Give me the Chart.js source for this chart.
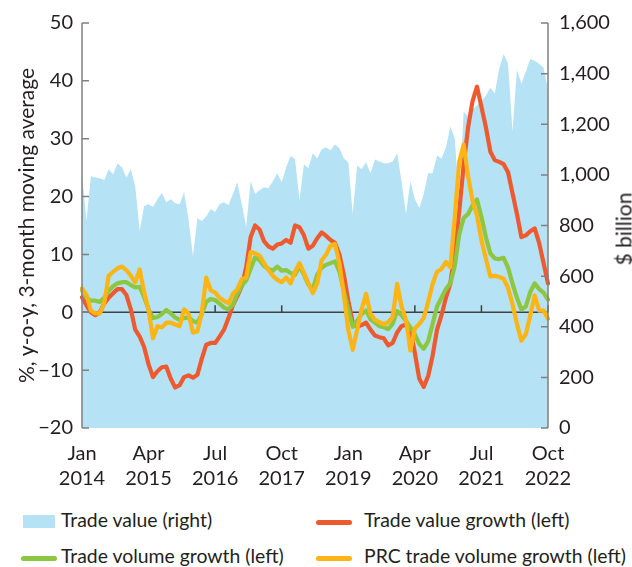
<!DOCTYPE html>
<html>
<head>
<meta charset="utf-8">
<script src="https://cdn.jsdelivr.net/npm/chart.js@4.4.0/dist/chart.umd.min.js"></script>
<style>
html,body{margin:0;padding:0;background:#fff;}
#wrap{position:relative;width:632px;height:567px;overflow:hidden;font-family:Lato,"Open Sans",sans-serif;color:#231f20;}
#c{position:absolute;left:0;top:0;}
#rtitle{position:absolute;left:623px;top:229px;transform:translate(-50%,-50%) rotate(-90deg);white-space:nowrap;font-size:21px;}
.lt{position:absolute;font-size:19.4px;white-space:nowrap;line-height:22px;}
.mk{position:absolute;}
</style>
</head>
<body>
<div id="wrap">
<canvas id="c" width="632" height="500" style="width:632px;height:500px"></canvas>
<div id="rtitle">$ billion</div>
<div class="mk" style="left:23px;top:515px;width:32px;height:13px;background:#b5e2f4"></div>
<div class="lt" style="left:61px;top:509px">Trade value (right)</div>
<div class="mk" style="left:316px;top:520px;width:36px;height:5px;border-radius:3px;background:#ee5a2f"></div>
<div class="lt" style="left:364px;top:509px">Trade value growth (left)</div>
<div class="mk" style="left:21px;top:556px;width:36px;height:5px;border-radius:3px;background:#8dc641"></div>
<div class="lt" style="left:61px;top:545px">Trade volume growth (left)</div>
<div class="mk" style="left:316px;top:556px;width:36px;height:5px;border-radius:3px;background:#fdb515"></div>
<div class="lt" style="left:364px;top:545px">PRC trade volume growth (left)</div>
</div>
<script>
const monthNames = ["Jan","Feb","Mar","Apr","May","Jun","Jul","Aug","Sep","Oct","Nov","Dec"];
const startYear = 2014;
const nMonths = 106;
const categories = [];
for (let i = 0; i < nMonths; i++) {
  categories.push(monthNames[i % 12] + " " + (startYear + Math.floor(i / 12)));
}
const tickEvery = 15;

// Trade value, $ billion (right axis)
const tradeValue = [
  1002, 818, 995, 990, 987, 979, 1022, 1002, 1045, 1030, 990, 1022,
  955, 778, 877, 884, 873, 904, 928, 892, 904, 888, 884, 932,
  825, 680, 829, 818, 837, 865, 853, 884, 892, 880, 924, 971,
  884, 794, 975, 924, 939, 951, 947, 975, 1006, 971, 1030, 1075,
  1063, 900, 1042, 1026, 1085, 1065, 1101, 1108, 1097, 1120, 1105, 1065,
  1050, 845, 1038, 1022, 1050, 1006, 1061, 1053, 1046, 1046, 1053, 1085,
  975, 845, 975, 904, 869, 924, 1006, 1006, 1077, 1065, 1108, 1191,
  1144, 884, 1250, 1230, 1258, 1274, 1293, 1313, 1344, 1321, 1419, 1478,
  1439, 1171, 1415, 1360, 1407, 1458, 1450, 1439, 1423, 1336
];
// Trade value growth, % y-o-y 3mma (left axis)
const tradeValueGrowth = [
  2.6, 1.2, 0.0, -0.5, 0.0, 1.5, 2.5, 3.3, 4.0, 4.0, 3.0, 0.5,
  -3.0, -4.2, -6.0, -9.0, -11.2, -10.2, -9.5, -9.4, -11.5, -13.0, -12.6, -11.2,
  -10.9, -11.3, -10.8, -8.0, -5.6, -5.3, -5.3, -4.2, -3.0, -1.0, 1.2, 2.8,
  4.5, 7.8, 13.0, 15.0, 14.3, 12.3, 11.4, 11.0, 11.7, 11.9, 12.5, 12.0,
  15.0, 14.7, 13.3, 11.0, 11.5, 12.8, 13.8, 13.2, 12.5, 12.0, 10.0, 6.5,
  2.0, -1.8, -2.5, -2.2, -1.8, -3.0, -4.0, -4.3, -4.5, -5.7, -5.3, -3.5,
  -2.4, -2.1, -3.0, -7.0, -11.5, -12.9, -11.0, -7.5, -3.0, -0.5, 2.5, 5.0,
  10.5, 17.5, 25.5, 32.0, 36.5, 39.0, 35.5, 32.0, 27.8, 26.3, 26.0, 25.6,
  24.2, 20.6, 17.0, 13.0, 13.3, 14.0, 14.5, 12.0, 8.5, 5.0
];
// Trade volume growth (left axis)
const tradeVolumeGrowth = [
  3.8, 2.5, 2.0, 2.0, 1.8, 2.5, 3.7, 4.5, 5.0, 5.2, 5.2, 4.7,
  4.3, 4.4, 2.6, 0.5, -1.0, -0.8, -0.3, 0.4, -0.2, -0.9, -1.3, -1.0,
  -0.9, -1.5, -1.8, -0.3, 1.8, 2.3, 2.1, 1.5, 0.8, 0.5, 1.3, 3.2,
  4.6, 5.5, 7.5, 9.5, 9.0, 8.0, 7.5, 7.2, 7.9, 7.2, 7.3, 6.8,
  6.5, 8.0, 6.5, 4.8, 4.0, 6.5, 7.7, 8.2, 8.5, 8.8, 7.0, 3.7,
  0.5, -2.5, -1.5, -0.3, 0.3, -1.2, -1.8, -2.4, -2.6, -2.9, -2.0, 0.2,
  -0.5, -1.5, -2.6, -3.8, -5.5, -6.3, -5.0, -2.0, 1.0, 2.5, 4.0, 5.0,
  8.0, 13.5, 16.3, 17.0, 18.5, 19.5, 16.5, 13.0, 10.2, 9.3, 9.2, 9.4,
  7.7, 5.0, 2.5, 0.5, 1.0, 3.5, 5.0, 4.0, 3.4, 2.2
];
// PRC trade volume growth (left axis)
const prcVolumeGrowth = [
  4.1, 3.0, 0.3, -0.2, -0.2, 1.5, 6.3, 7.0, 7.6, 7.9, 7.3, 6.3,
  5.2, 7.4, 3.5, 0.3, -4.5, -2.4, -2.6, -1.8, -1.8, -2.1, -2.4, 0.5,
  -0.2, -3.5, -3.3, 0.0, 6.0, 3.8, 3.4, 2.5, 2.0, 1.5, 3.2, 4.0,
  5.7, 6.0, 10.4, 10.2, 9.8, 8.5, 7.3, 6.3, 5.6, 5.2, 6.0, 5.0,
  7.0, 8.5, 6.8, 5.0, 3.3, 5.0, 9.0, 10.0, 11.5, 11.8, 8.5, 3.0,
  -3.0, -6.5, -3.0, 0.5, 3.2, -0.3, -1.3, -1.7, -2.1, -1.7, -0.8, 4.9,
  1.0, -1.3, -6.6, -2.8, -2.0, -1.0, 1.8, 4.9, 7.0, 7.5, 8.7, 7.8,
  16.5, 26.0, 29.0, 23.5, 19.3, 16.7, 12.5, 9.3, 6.2, 6.3, 6.1, 5.8,
  4.2, 1.4, -2.0, -4.9, -3.8, -0.5, 2.9, 0.3, 0.3, -1.1
];
const leftTicks = [-20, -10, 0, 10, 20, 30, 40, 50];
const rightTicks = [0, 200, 400, 600, 800, 1000, 1200, 1400, 1600];

const colArea = '#b5e2f4', colRed = '#ee5a2f', colGreen = '#8dc641', colOrange = '#fdb515';
const FONT = 'Lato, "Open Sans", sans-serif';

const overlay = {
  id: 'overlay',
  afterDatasetDraw(chart, args) {
    if (args.index !== 0) return;
    const {ctx, chartArea: a, scales: {x, y}} = chart;
    const y0 = y.getPixelForValue(0);
    ctx.save();
    ctx.strokeStyle = '#404040';
    ctx.lineWidth = 1.5;
    ctx.beginPath();
    ctx.moveTo(a.left, y0); ctx.lineTo(a.right, y0);
    for (let i = tickEvery; i < nMonths; i += tickEvery) {
      const px = x.getPixelForValue(i);
      ctx.moveTo(px, y0); ctx.lineTo(px, y0 - 7);
    }
    ctx.stroke();
    ctx.restore();
  },
  afterDraw(chart) {
    const {ctx, chartArea: a, scales: {y, y1}} = chart;
    ctx.save();
    ctx.strokeStyle = '#808080';
    ctx.lineWidth = 1.5;
    ctx.beginPath();
    ctx.moveTo(a.left, a.top); ctx.lineTo(a.left, a.bottom);
    ctx.moveTo(a.right, a.top); ctx.lineTo(a.right, a.bottom);
    leftTicks.forEach(v => { const p = y.getPixelForValue(v); ctx.moveTo(a.left, p); ctx.lineTo(a.left + 7, p); });
    rightTicks.forEach(v => { const p = y1.getPixelForValue(v); ctx.moveTo(a.right, p); ctx.lineTo(a.right - 7, p); });
    ctx.stroke();
    ctx.restore();
  }
};

const lineDs = (label, data, color, order) => ({
  type: 'line', label, data, yAxisID: 'y', borderColor: color, backgroundColor: color,
  borderWidth: 4.2, pointRadius: 0, tension: 0, fill: false, order,
  borderJoinStyle: 'round', borderCapStyle: 'round'
});

new Chart(document.getElementById('c'), {
  type: 'line',
  data: {
    labels: categories,
    datasets: [
      { label: 'Trade value (right)', data: tradeValue, yAxisID: 'y1', fill: 'start',
        backgroundColor: colArea, borderColor: colArea, borderWidth: 0, pointRadius: 0, tension: 0, order: 4 },
      lineDs('Trade value growth (left)', tradeValueGrowth, colRed, 3),
      lineDs('Trade volume growth (left)', tradeVolumeGrowth, colGreen, 2),
      lineDs('PRC trade volume growth (left)', prcVolumeGrowth, colOrange, 1)
    ]
  },
  options: {
    responsive: false,
    animation: false,
    layout: { padding: { top: 21, left: 0, right: 0, bottom: 0 } },
    plugins: { legend: { display: false }, tooltip: { enabled: false } },
    scales: {
      x: {
        grid: { display: false, drawTicks: false },
        border: { display: false },
        afterFit(s) { s.height = 72; },
        ticks: {
          autoSkip: false, maxRotation: 0, minRotation: 0, padding: 13,
          color: '#231f20', font: { family: FONT, size: 20, lineHeight: 1.25 },
          callback(val, idx) {
            if (idx % tickEvery !== 0) return null;
            return this.getLabelForValue(val).split(' ');
          }
        }
      },
      y: {
        position: 'left', min: -20, max: 50,
        afterFit(s) { s.width = 82; },
        afterBuildTicks(s) { s.ticks = leftTicks.map(v => ({ value: v })); },
        grid: { display: false, drawTicks: false },
        border: { display: false },
        ticks: {
          padding: 9, color: '#231f20', font: { family: FONT, size: 20 },
          callback: v => (v < 0 ? '\u2212' + Math.abs(v) : String(v))
        },
        title: {
          display: true, text: '%, y-o-y, 3-month moving average', color: '#231f20',
          font: { family: FONT, size: 21 }, padding: { top: 15, bottom: 0 }
        }
      },
      y1: {
        position: 'right', min: 0, max: 1600,
        afterFit(s) { s.width = 84; },
        afterBuildTicks(s) { s.ticks = rightTicks.map(v => ({ value: v })); },
        grid: { display: false, drawTicks: false },
        border: { display: false },
        ticks: {
          padding: 11, color: '#231f20', font: { family: FONT, size: 20 },
          callback: v => v.toLocaleString('en-US')
        }
      }
    }
  },
  plugins: [overlay]
});
</script>
</body>
</html>
